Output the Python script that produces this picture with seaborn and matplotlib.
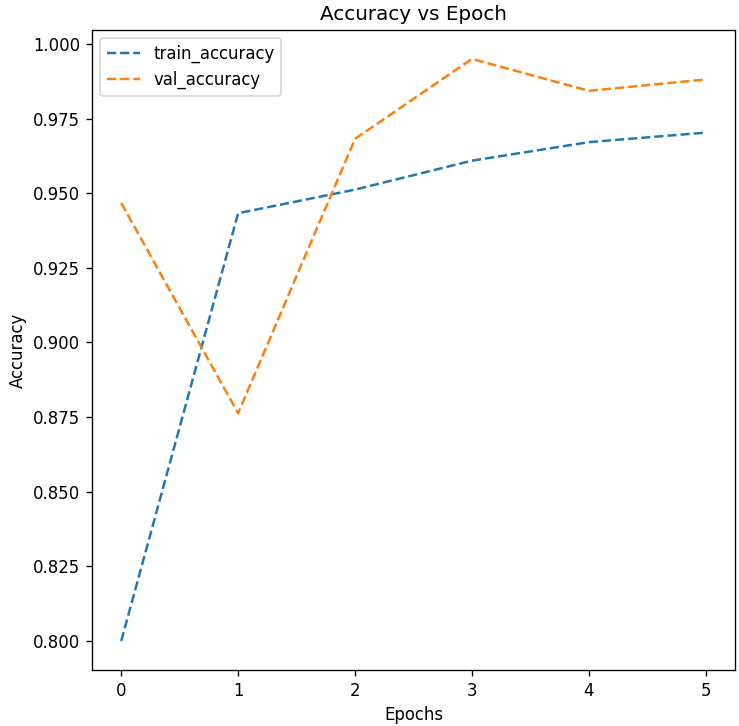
import matplotlib
matplotlib.use("Agg")
import matplotlib.pyplot as plt
import pandas as pd
import seaborn as sns

epochs = [0, 1, 2, 3, 4, 5]
train_accuracy = [0.8000, 0.9433, 0.9512, 0.9609, 0.9671, 0.9703]
val_accuracy = [0.9467, 0.8763, 0.9682, 0.9950, 0.9843, 0.9881]

df = pd.DataFrame({'epoch': epochs, 'train_accuracy': train_accuracy,
                   'val_accuracy': val_accuracy})

# original looks like a smaller figure scaled up, so render at a higher dpi
dpi = 119
fig = plt.figure(figsize=(739 / dpi, 726 / dpi), dpi=dpi)
ax = fig.add_axes([0.1245, 0.077, 0.870, 0.882])
sns.lineplot(data=df, x='epoch', y='train_accuracy', ax=ax, linestyle='--',
             color='#1f77b4', label='train_accuracy')
sns.lineplot(data=df, x='epoch', y='val_accuracy', ax=ax, linestyle='--',
             color='#ff7f0e', label='val_accuracy')
ax.set_title('Accuracy vs Epoch')
ax.set_xlabel('Epochs')
ax.set_ylabel('Accuracy')
ax.legend(loc='upper left')
fig.savefig('out.png', dpi=dpi)
